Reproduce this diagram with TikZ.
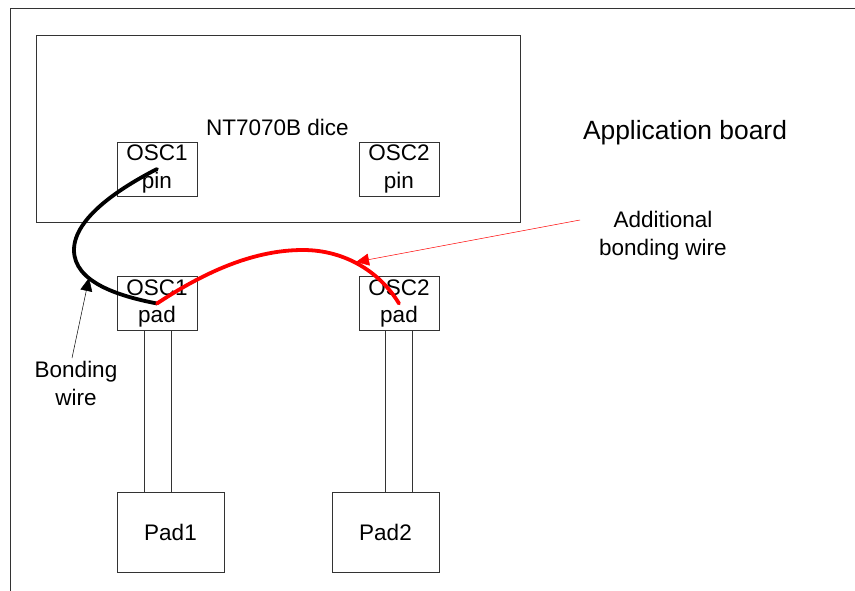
\documentclass[tikz,border=0pt]{standalone}
\usepackage{fontspec}
\setmainfont{Liberation Sans}
\usetikzlibrary{arrows.meta}
\tikzset{
	block/.style={draw=black!80,line width=.9pt,fill=white,inner sep=0pt,align=center,font=\fontsize{22.5}{27.5}\selectfont},
	label/.style={inner sep=0pt,align=center,font=\fontsize{22.5}{28}\selectfont},
	wire/.style={line width=3.8pt,line cap=round},
}
\begin{document}
\begin{tikzpicture}[x=1pt,y=-1pt]
	\useasboundingbox (0,0) rectangle (855,591);
	\draw[line width=.9pt,black!80] (10,591) -- (10,8) -- (855,8);
	\node[block,minimum width=484pt,minimum height=187pt] (dice) at (278,128.5) {};
	\node[label] (dicename) at (277.5,127) {NT7070B dice};
	\node[label,font=\fontsize{26.4}{30}\selectfont] (board) at (685,132.5) {Application board};
	% pins and pads
	\node[block,minimum width=80pt,minimum height=54pt] (pinA) at (157,169) {OSC1\\pin};
	\node[block,minimum width=80pt,minimum height=54pt] (pinB) at (399,169) {OSC2\\pin};
	\node[block,minimum width=27pt,minimum height=162pt] (traceA) at (157.5,411) {};
	\node[block,minimum width=27pt,minimum height=162pt] (traceB) at (399,411) {};
	\node[block,minimum width=80pt,minimum height=54pt] (padA) at (157,303.5) {OSC1\\pad};
	\node[block,minimum width=80pt,minimum height=54pt] (padB) at (399,303.5) {OSC2\\pad};
	\node[block,minimum width=107pt,minimum height=80pt] (bondA) at (170.5,532) {Pad1};
	\node[block,minimum width=107pt,minimum height=80pt] (bondB) at (385.5,532) {Pad2};
	% wires
	\draw[wire] (pinA.center) .. controls (120,188) and (74,218) .. (74,250)
		.. controls (74,282) and (118,296) .. (padA.center);
	\draw[wire,red] (padA.center) .. controls (215,265) and (262,250) .. (303,250)
		.. controls (345,250) and (380,272) .. (padB.center);
	% labels
	\node[label] (bondlabel) at (76,383.5) {Bonding\\wire};
	\node[label] (addlabel) at (663,235.5) {Additional\\bonding wire};
	\coordinate (bondtip) at (89,278);
	\coordinate (addtip) at (356,262);
	\draw[-{Triangle[length=13pt,width=12pt]},line width=.5pt] (72,358) -- (bondtip);
	\draw[-{Triangle[length=13pt,width=12pt]},line width=.5pt,red] (580,220) -- (addtip);
\end{tikzpicture}
\end{document}
